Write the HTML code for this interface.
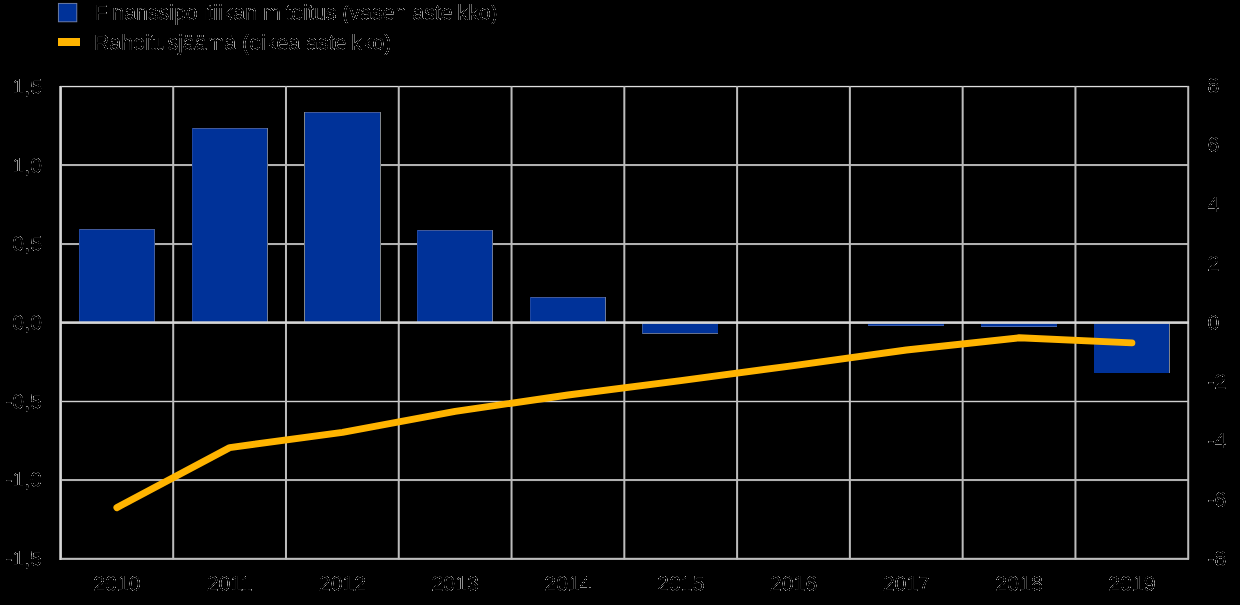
<!DOCTYPE html>
<html><head><meta charset="utf-8"><title>Chart</title>
<style>html,body{margin:0;padding:0;background:#000;}body{width:1240px;height:605px;overflow:hidden;}svg{display:block;}text{font-family:"Liberation Sans",sans-serif;font-size:21.33px;fill:#fff;}</style></head><body>
<svg width="1240" height="605" viewBox="0 0 1240 605">
<rect x="0" y="0" width="1240" height="605" fill="#000"/>
<defs><filter id="edge" x="0" y="0" width="1240" height="605" filterUnits="userSpaceOnUse" color-interpolation-filters="sRGB"><feComponentTransfer><feFuncR type="linear" slope="0" intercept="0.74"/><feFuncG type="linear" slope="0" intercept="0.74"/><feFuncB type="linear" slope="0" intercept="0.74"/><feFuncA type="table" tableValues="0 0 0.4 0.95 0.4 0 0"/></feComponentTransfer></filter></defs>
<rect x="60" y="164" width="1129" height="2.05" fill="#b0b0b0"/>
<rect x="60" y="243" width="1129" height="2.05" fill="#b0b0b0"/>
<rect x="60" y="400.8" width="1129" height="1.4" fill="#d0d0d0"/>
<rect x="60" y="479" width="1129" height="2.05" fill="#b0b0b0"/>
<rect x="60" y="85.9" width="1129" height="1.3" fill="#dedede"/>
<rect x="60" y="557.8" width="1129" height="2.1" fill="#bcbcbc"/>
<rect x="172.20" y="86" width="2" height="473.5" fill="#bcbcbc"/>
<rect x="284.98" y="86" width="2" height="473.5" fill="#bcbcbc"/>
<rect x="397.76" y="86" width="2" height="473.5" fill="#bcbcbc"/>
<rect x="510.54" y="86" width="2" height="473.5" fill="#bcbcbc"/>
<rect x="623.32" y="86" width="2" height="473.5" fill="#bcbcbc"/>
<rect x="736.10" y="86" width="2" height="473.5" fill="#bcbcbc"/>
<rect x="848.88" y="86" width="2" height="473.5" fill="#bcbcbc"/>
<rect x="961.66" y="86" width="2" height="473.5" fill="#bcbcbc"/>
<rect x="1074.44" y="86" width="2" height="473.5" fill="#bcbcbc"/>
<rect x="1187.22" y="86" width="2" height="473.5" fill="#bcbcbc"/>
<rect x="59.2" y="86" width="2.8" height="474" fill="#c2c2c2"/>
<rect x="60" y="86" width="1" height="474" fill="#d8d8d8"/>
<rect x="79" y="229" width="76" height="94" fill="#003299"/>
<rect x="79" y="229" width="76" height="1" fill="#42599a"/>
<rect x="79" y="229" width="1" height="94" fill="#1e46a0"/>
<rect x="154" y="229" width="1" height="94" fill="#46609c"/>
<rect x="192" y="128" width="76" height="195" fill="#003299"/>
<rect x="192" y="128" width="76" height="1" fill="#42599a"/>
<rect x="192" y="128" width="1" height="195" fill="#1e46a0"/>
<rect x="267" y="128" width="1" height="195" fill="#707d96"/>
<rect x="304" y="112" width="77" height="211" fill="#003299"/>
<rect x="304" y="112" width="77" height="1" fill="#42599a"/>
<rect x="304" y="112" width="1" height="211" fill="#80868c"/>
<rect x="380" y="112" width="1" height="211" fill="#80868c"/>
<rect x="417" y="230" width="76" height="93" fill="#003299"/>
<rect x="417" y="230" width="76" height="1" fill="#42599a"/>
<rect x="417" y="230" width="1" height="93" fill="#1e46a0"/>
<rect x="492" y="230" width="1" height="93" fill="#6c7a9c"/>
<rect x="530" y="297" width="76" height="26" fill="#003299"/>
<rect x="530" y="297" width="76" height="1" fill="#42599a"/>
<rect x="530" y="297" width="1" height="26" fill="#1e46a0"/>
<rect x="605" y="297" width="1" height="26" fill="#6c7a9c"/>
<rect x="642" y="322" width="76" height="12" fill="#003299"/>
<rect x="642" y="333" width="76" height="1" fill="#66708c"/>
<rect x="642" y="322" width="1" height="12" fill="#3a5a9a"/>
<rect x="868" y="322" width="76" height="4" fill="#003299"/>
<rect x="868" y="325" width="76" height="1" fill="#3a5aa8"/>
<rect x="981" y="322" width="76" height="5" fill="#003299"/>
<rect x="981" y="326" width="76" height="1" fill="#4666ae"/>
<rect x="1094" y="322" width="76" height="51" fill="#003299"/>
<rect x="1169" y="322" width="1" height="51" fill="#80838a"/>
<rect x="60" y="321.3" width="1129" height="2.6" fill="#d6d6d6"/>
<polyline points="116.9,507.6 229.7,447.6 342.5,432.3 455.2,411.3 568.0,395 680.8,380.7 793.6,365.6 906.4,350 1019.1,337.8 1131.9,342.9" fill="none" stroke="#FFB400" stroke-width="6.9" stroke-linecap="round" stroke-linejoin="round"/>
<rect x="58.4" y="3.4" width="18.4" height="18.4" fill="#003299" stroke="#9aa6c8" stroke-opacity="0.75" stroke-width="0.9"/>
<rect x="58" y="38" width="22" height="8" fill="#FFB400"/>
<g filter="url(#edge)">
<text x="94.6" y="19.8">Finanssipolitiikan mitoitus (vasen asteikko)</text>
<text x="93.9" y="49.8">Rahoitusjäämä (oikea asteikko)</text>
<text x="42" y="93.8" text-anchor="end">1,5</text>
<text x="42" y="172.5" text-anchor="end">1,0</text>
<text x="42" y="251.2" text-anchor="end">0,5</text>
<text x="42" y="329.9" text-anchor="end">0,0</text>
<text x="42" y="408.6" text-anchor="end">-0,5</text>
<text x="42" y="487.3" text-anchor="end">-1,0</text>
<text x="42" y="566.0" text-anchor="end">-1,5</text>
<text x="1207.5" y="93.4">8</text>
<text x="1207.5" y="152.4">6</text>
<text x="1207.5" y="211.5">4</text>
<text x="1207.5" y="270.6">2</text>
<text x="1207.5" y="329.6">0</text>
<text x="1207.5" y="388.7">-2</text>
<text x="1207.5" y="447.7">-4</text>
<text x="1207.5" y="506.7">-6</text>
<text x="1207.5" y="565.8">-8</text>
<text x="116.9" y="591" text-anchor="middle">2010</text>
<text x="229.7" y="591" text-anchor="middle">2011</text>
<text x="342.5" y="591" text-anchor="middle">2012</text>
<text x="455.2" y="591" text-anchor="middle">2013</text>
<text x="568.0" y="591" text-anchor="middle">2014</text>
<text x="680.8" y="591" text-anchor="middle">2015</text>
<text x="793.6" y="591" text-anchor="middle">2016</text>
<text x="906.4" y="591" text-anchor="middle">2017</text>
<text x="1019.1" y="591" text-anchor="middle">2018</text>
<text x="1131.9" y="591" text-anchor="middle">2019</text>
</g>
</svg></body></html>
